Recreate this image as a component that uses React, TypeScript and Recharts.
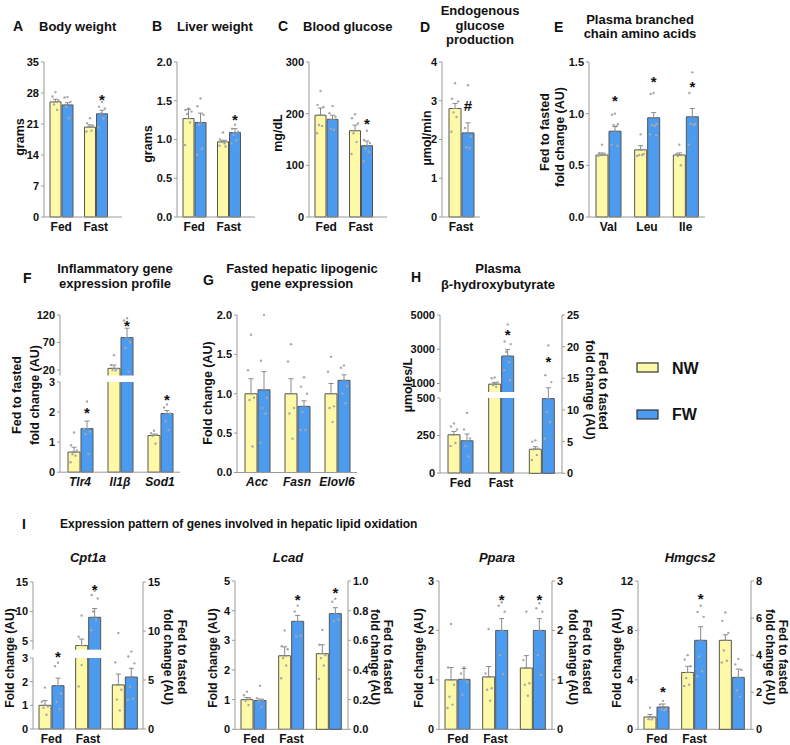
import React from 'react';
import { BarChart, Bar, XAxis, YAxis, ErrorBar } from 'recharts';

const FONT = '"Liberation Sans", Arial, Helvetica, sans-serif';
const YEL = '#fef9a7';
const BLUE = '#4d9bef';
const EDGE = '#555';
const AXIS = '#9a9a9a';
const INK = '#111';
const DOT = '#a8a8a8';

const FED_FAST = ['Fed', 'Fast'];
const FED_FAST_3 = ['Fed', 'Fast', ''];

// A — body weight (grams)
const bwNW = [26.0, 20.3];
const bwFW = [25.3, 23.3];
const bwNWe = [0.6, 0.5];
const bwFWe = [0.5, 0.8];
const bwStar = [null, 27.2];
const bwNWpts = [[28.2, 27.2, 26.3, 25.4, 24.2, 26.0], [22.3, 21.2, 20.6, 20.4, 19.5, 19.3]];
const bwFWpts = [[27.1, 27.0, 26.0, 24.9, 22.3], [26.0, 24.9, 24.5, 23.4, 22.3, 20.2]];

// B — liver weight (grams)
const lwNW = [1.27, 0.97];
const lwFW = [1.22, 1.09];
const lwNWe = [0.12, 0.02];
const lwFWe = [0.12, 0.05];
const lwStar = [null, 1.29];
const lwNWpts = [[1.4, 1.38, 1.36, 1.33, 1.22, 0.93], [1.09, 1.0, 0.98, 0.97, 0.95, 0.92, 0.91]];
const lwFWpts = [[1.53, 1.43, 1.32, 1.19, 0.88, 0.8], [1.19, 1.14, 1.1, 1.06, 0.99, 0.95]];

// C — blood glucose (mg/dL)
const bgNW = [197, 167];
const bgFW = [189, 138];
const bgNWe = [14, 11];
const bgFWe = [8, 9];
const bgStar = [null, 185];
const bgNWpts = [[244, 217, 213, 178, 176, 162], [199, 191, 181, 162, 145, 122]];
const bgFWpts = [[215, 201, 194, 171, 169], [167, 149, 143, 132, 126, 108]];

// D — endogenous glucose production (µmol/min)
const egpCats = ['Fast'];
const egpNW = [2.8];
const egpFW = [2.17];
const egpNWe = [0.13];
const egpFWe = [0.26];
const egpStar = [2.86];
const egpNWpts = [[3.45, 3.05, 2.98, 2.7, 2.58, 2.2]];
const egpFWpts = [[3.4, 2.3, 2.08, 1.8, 1.78]];

// E — plasma BCAA, fed to fasted fold change
const bcaaCats = ['Val', 'Leu', 'Ile'];
const bcaaNW = [0.6, 0.65, 0.6];
const bcaaFW = [0.83, 0.96, 0.97];
const bcaaNWe = [0.02, 0.04, 0.02];
const bcaaFWe = [0.045, 0.05, 0.08];
const bcaaStar = [1.15, 1.34, 1.29];
const bcaaNWpts = [[0.7, 0.62, 0.61, 0.6, 0.6, 0.59], [0.8, 0.65, 0.61, 0.6, 0.6, 0.59], [0.7, 0.61, 0.6, 0.59, 0.5]];
const bcaaFWpts = [[1.0, 0.99, 0.9, 0.89, 0.88, 0.7, 0.69], [1.2, 1.19, 0.9, 0.89, 0.88, 0.8, 0.79], [1.4, 1.2, 0.9, 0.9, 0.89, 0.7]];

// F — inflammatory genes
const infCats = ['Tlr4', 'Il1\u03b2', 'Sod1'];
const infNW = [0.67, 23, 1.22];
const infFW = [1.45, 79, 1.95];
const infNWe = [0.16, 6, 0.05];
const infFWe = [0.25, 17, 0.1];
const infStar = [2.06, 105, 2.5];
const infNWpts = [[1.32, 0.9, 0.72, 0.6, 0.55, 0.33], [47, 29, 22, 20, 19], [1.38, 1.3, 1.25, 1.2, 0.95]];
const infFWpts = [[2.35, 1.45, 1.35, 1.27, 0.6], [114, 110, 71, 60, 17], [2.25, 2.15, 1.95, 1.7, 1.4]];

// G — lipogenic genes
const lipCats = ['Acc', 'Fasn', 'Elovl6'];
const lipNW = [1.0, 1.0, 1.0];
const lipFW = [1.05, 0.84, 1.17];
const lipNWe = [0.19, 0.19, 0.13];
const lipFWe = [0.23, 0.07, 0.07];
const lipNWpts = [[1.75, 1.3, 0.95, 0.92, 0.33], [1.63, 1.41, 0.82, 0.75, 0.43], [1.47, 1.28, 0.84, 0.82, 0.64]];
const lipFWpts = [[2.0, 1.42, 0.95, 0.82, 0.75, 0.38], [1.21, 1.09, 1.0, 0.77, 0.54, 0.54], [1.36, 1.33, 1.1, 1.0, 0.88]];

// H — plasma beta-hydroxybutyrate (µmoles/L; third group is fold change on right axis)
const bhbNW = [255, 960, 3.8];
const bhbFW = [215, 2600, 11.8];
const bhbNWe = [22, 100, 0.4];
const bhbFWe = [45, 390, 1.7];
const bhbStar = [null, 4000, 18.1];
const bhbNWpts = [[330, 310, 290, 255, 200, 180], [1350, 1300, 1060, 900, 800], [5.2, 5.0, 3.9, 3.8, 2.9, 2.1]];
const bhbFWpts = [[400, 290, 230, 180, 110], [4450, 3450, 3300, 2850, 2260, 1780, 1190], [20.2, 15.5, 14.4, 9.7, 8.1, 5.5]];

// I — lipid oxidation genes
const cptNW = [1.0, 4.2, 4.5];
const cptFW = [1.83, 9.0, 5.3];
const cptNWe = [0.2, 1.1, 1.1];
const cptFWe = [0.32, 1.5, 0.9];
const cptStar = [3.18, 14.2, null];
const cptNWpts = [[1.75, 1.15, 0.95, 0.9, 0.6], [9.3, 5.7, 2.7, 1.8], [9.8, 6.8, 4.0, 3.0, 1.9]];
const cptFWpts = [[2.8, 2.65, 1.5, 1.15, 0.85], [13.5, 12.8, 12.2, 10.0, 8.6, 6.8], [7.9, 7.4, 6.7, 4.3, 3.1, 3.0]];

const lcadNW = [1.0, 2.48, 0.51];
const lcadFW = [0.97, 3.64, 0.78];
const lcadNWe = [0.07, 0.3, 0.06];
const lcadFWe = [0.05, 0.2, 0.04];
const lcadStar = [null, 4.47, 0.94];
const lcadNWpts = [[1.27, 1.15, 1.05, 0.95, 0.82], [3.33, 2.8, 2.7, 2.4, 2.15, 1.72], [0.67, 0.57, 0.5, 0.48, 0.43, 0.34]];
const lcadFWpts = [[1.47, 1.05, 1.0, 0.95, 0.75], [4.17, 3.97, 3.15, 3.13], [0.88, 0.86, 0.74, 0.73]];

const pparNW = [1.0, 1.06, 1.24];
const pparFW = [1.01, 2.0, 2.0];
const pparNWe = [0.25, 0.21, 0.25];
const pparFWe = [0.22, 0.24, 0.24];
const pparStar = [null, 2.68, 2.68];
const pparNWpts = [[2.13, 1.25, 0.9, 0.66, 0.5, 0.43], [2.03, 1.13, 0.83, 0.8, 0.58], [2.38, 1.4, 0.93, 0.9, 0.68]];
const pparFWpts = [[1.25, 1.13, 0.96, 0.7], [2.57, 2.5, 2.38, 1.5, 1.12], [2.55, 2.45, 2.38, 1.5, 1.1]];

const hmgNW = [1.0, 4.6, 4.8];
const hmgFW = [1.8, 7.2, 2.8];
const hmgNWe = [0.2, 0.5, 0.3];
const hmgFWe = [0.25, 1.1, 0.45];
const hmgStar = [3.25, 10.8, null];
const hmgNWpts = [[1.75, 1.0, 0.9, 0.82, 0.8], [6.0, 5.65, 5.1, 4.15, 3.6, 3.5], [6.3, 5.85, 5.2, 4.25, 3.7, 3.6]];
const hmgFWpts = [[2.3, 2.0, 1.65, 1.6, 1.55], [10.0, 9.5, 9.1, 5.9, 4.7, 4.3], [3.8, 3.5, 3.2, 2.1, 1.75]];

type Set = {
  cats: string[];
  nw: number[];
  fw: number[];
  nwE: number[];
  fwE: number[];
  star?: (number | null)[];
  nwP: number[][];
  fwP: number[][];
};

type Row = {
  cat: string;
  nw: number | null;
  fw: number | null;
  nwE: number[] | null;
  fwE: number[] | null;
  nwCut: boolean;
  fwCut: boolean;
  fwS: number | null;
  nwP: number[];
  fwP: number[];
};

const bw: Set = { cats: FED_FAST, nw: bwNW, fw: bwFW, nwE: bwNWe, fwE: bwFWe, star: bwStar, nwP: bwNWpts, fwP: bwFWpts };
const lw: Set = { cats: FED_FAST, nw: lwNW, fw: lwFW, nwE: lwNWe, fwE: lwFWe, star: lwStar, nwP: lwNWpts, fwP: lwFWpts };
const bg: Set = { cats: FED_FAST, nw: bgNW, fw: bgFW, nwE: bgNWe, fwE: bgFWe, star: bgStar, nwP: bgNWpts, fwP: bgFWpts };
const egp: Set = { cats: egpCats, nw: egpNW, fw: egpFW, nwE: egpNWe, fwE: egpFWe, star: egpStar, nwP: egpNWpts, fwP: egpFWpts };
const bcaa: Set = { cats: bcaaCats, nw: bcaaNW, fw: bcaaFW, nwE: bcaaNWe, fwE: bcaaFWe, star: bcaaStar, nwP: bcaaNWpts, fwP: bcaaFWpts };
const inf: Set = { cats: infCats, nw: infNW, fw: infFW, nwE: infNWe, fwE: infFWe, star: infStar, nwP: infNWpts, fwP: infFWpts };
const lip: Set = { cats: lipCats, nw: lipNW, fw: lipFW, nwE: lipNWe, fwE: lipFWe, nwP: lipNWpts, fwP: lipFWpts };
const bhb: Set = { cats: FED_FAST_3, nw: bhbNW, fw: bhbFW, nwE: bhbNWe, fwE: bhbFWe, star: bhbStar, nwP: bhbNWpts, fwP: bhbFWpts };
const cpt: Set = { cats: FED_FAST_3, nw: cptNW, fw: cptFW, nwE: cptNWe, fwE: cptFWe, star: cptStar, nwP: cptNWpts, fwP: cptFWpts };
const lcad: Set = { cats: FED_FAST_3, nw: lcadNW, fw: lcadFW, nwE: lcadNWe, fwE: lcadFWe, star: lcadStar, nwP: lcadNWpts, fwP: lcadFWpts };
const ppar: Set = { cats: FED_FAST_3, nw: pparNW, fw: pparFW, nwE: pparNWe, fwE: pparFWe, star: pparStar, nwP: pparNWpts, fwP: pparFWpts };
const hmg: Set = { cats: FED_FAST_3, nw: hmgNW, fw: hmgFW, nwE: hmgNWe, fwE: hmgFWe, star: hmgStar, nwP: hmgNWpts, fwP: hmgFWpts };

// rows for one axis segment: values below the segment are dropped, values above are cut at its top
function buildRows(s: Set, lo: number, hi: number, use?: number[]): Row[] {
  return s.cats.map((cat, i) => {
    const on = !use || use.includes(i);
    const cell = (v: number | null | undefined, e: number) => {
      if (!on || v == null || v <= lo) return { v: null, e: null, cut: false, gone: true };
      if (v > hi) return { v: hi, e: null, cut: true, gone: false };
      return { v, e: [0, e], cut: false, gone: false };
    };
    const a = cell(s.nw[i], s.nwE[i]);
    const b = cell(s.fw[i], s.fwE[i]);
    return {
      cat,
      nw: a.v,
      fw: b.v,
      nwE: a.e,
      fwE: b.e,
      nwCut: a.cut,
      fwCut: b.cut,
      fwS: b.cut || b.gone ? null : s.star?.[i] ?? null,
      nwP: s.nwP[i] ?? [],
      fwP: s.fwP[i] ?? [],
    };
  });
}

const JITTER = [0, -3, 3, -1.5, 1.5, -3.5, 2.5];

function makeShape(key: 'nw' | 'fw', fill: string, lo: number, hi: number, mark: string) {
  return (p: any) => {
    const row = p.payload as Row;
    const v = row ? row[key] : null;
    if (v == null || !(p.height > 0) || v <= lo) return <g />;
    const ppu = p.height / (v - lo);
    const cx = p.x + p.width / 2;
    const at = (d: number) => p.y + (v - d) * ppu;
    const pts = (key === 'nw' ? row.nwP : row.fwP).filter((d) => d >= lo && d <= hi);
    const s = key === 'fw' ? row.fwS : null;
    const cut = key === 'nw' ? row.nwCut : row.fwCut;
    const { x, y, width: w, height: h } = p;
    // sides always, top unless the bar runs through an axis break, bottom only on a zero baseline
    let edge = `M${x},${y + h}V${y}M${x + w},${y}V${y + h}`;
    if (!cut) edge += `M${x},${y}H${x + w}`;
    if (lo === 0) edge += `M${x},${y + h}H${x + w}`;
    return (
      <g>
        <rect x={x} y={y} width={w} height={h} fill={fill} />
        <path d={edge} stroke={EDGE} strokeWidth={1} fill="none" />
        {pts.map((d, j) => (
          <circle key={j} cx={cx + JITTER[j % JITTER.length]} cy={at(d)} r={1.2} fill={DOT} />
        ))}
        {s != null && (
          <text x={cx} y={at(s) + (mark === '#' ? 5 : 8)} textAnchor="middle" fontSize={15} fontWeight={700} fill={INK}>
            {mark}
          </text>
        )}
      </g>
    );
  };
}

const YW = 40;
const RW = 40;
const MT = 30;
const XH = 22;

type PanelProps = {
  plot: [number, number, number, number];
  rows: Row[];
  domain: [number, number];
  ticks: number[];
  fmt?: (v: number) => string;
  side?: 'left' | 'right';
  showX?: boolean;
  padR?: number;
  barSize?: number;
  italic?: boolean;
  mark?: string;
};

function Panel({ plot, rows, domain, ticks, fmt, side = 'left', showX = true, padR = 0, barSize = 12, italic = false, mark = '*' }: PanelProps) {
  const [x0, y0, x1, y1] = plot;
  const w = YW + (x1 - x0) + RW;
  const h = MT + (y1 - y0) + XH;
  const [lo, hi] = domain;
  return (
    <div style={{ position: 'absolute', left: x0 - YW, top: y0 - MT, width: w, height: h }}>
      <BarChart
        width={w}
        height={h}
        data={rows}
        barSize={barSize}
        barGap={1}
        margin={{ top: MT, right: side === 'left' ? RW : 0, left: side === 'right' ? YW : 0, bottom: showX ? 0 : XH }}
      >
        <XAxis
          dataKey="cat"
          hide={!showX}
          height={XH}
          interval={0}
          tickLine={false}
          tickSize={0}
          tickMargin={5}
          padding={{ left: 0, right: padR }}
          axisLine={{ stroke: AXIS }}
          tick={{ fontSize: 12, fontWeight: 700, fill: INK, fontStyle: italic ? 'italic' : 'normal' }}
        />
        <YAxis
          orientation={side}
          width={side === 'left' ? YW : RW}
          type="number"
          domain={domain}
          ticks={ticks}
          interval={0}
          tickFormatter={fmt}
          tickSize={3}
          tickMargin={2}
          axisLine={{ stroke: AXIS }}
          tickLine={{ stroke: AXIS }}
          tick={{ fontSize: 11, fontWeight: 700, fill: INK }}
        />
        <Bar dataKey="nw" fill={YEL} isAnimationActive={false} shape={makeShape('nw', YEL, lo, hi, mark)}>
          <ErrorBar dataKey="nwE" width={2.5} stroke="#8a8a8a" strokeWidth={1} direction="y" />
        </Bar>
        <Bar dataKey="fw" fill={BLUE} isAnimationActive={false} shape={makeShape('fw', BLUE, lo, hi, mark)}>
          <ErrorBar dataKey="fwE" width={2.5} stroke="#8a8a8a" strokeWidth={1} direction="y" />
        </Bar>
      </BarChart>
    </div>
  );
}

const f1 = (v: number) => v.toFixed(1);

function VLabel({ x, y, text, size = 12, right = false }: { x: number; y: number; text: string; size?: number; right?: boolean }) {
  return (
    <text
      transform={`translate(${x},${y}) rotate(${right ? 90 : -90})`}
      textAnchor="middle"
      dominantBaseline="central"
      fontSize={size}
      fontWeight={700}
      fill={INK}
    >
      {text}
    </text>
  );
}

function T({ x, y, text, size = 13, anchor = 'start', italic = false }: { x: number; y: number; text: string; size?: number; anchor?: string; italic?: boolean }) {
  return (
    <text x={x} y={y} textAnchor={anchor as any} dominantBaseline="central" fontSize={size} fontWeight={700} fontStyle={italic ? 'italic' : 'normal'} fill={INK}>
      {text}
    </text>
  );
}

export default function App() {
  return (
    <div style={{ position: 'absolute', left: 0, top: 0, width: 790, height: 745, background: '#fff', fontFamily: FONT }}>
      {/* top row */}
      <Panel plot={[44, 62, 122, 217]} rows={buildRows(bw, 0, 35)} domain={[0, 35]} ticks={[0, 7, 14, 21, 28, 35]} padR={9} barSize={11} />
      <Panel plot={[177, 62, 255, 217]} rows={buildRows(lw, 0, 2)} domain={[0, 2]} ticks={[0, 0.5, 1, 1.5, 2]} fmt={f1} padR={9} barSize={11} />
      <Panel plot={[309, 62, 387, 217]} rows={buildRows(bg, 0, 300)} domain={[0, 300]} ticks={[0, 100, 200, 300]} padR={9} barSize={11} />
      <Panel plot={[442, 62, 480, 217]} rows={buildRows(egp, 0, 4)} domain={[0, 4]} ticks={[0, 1, 2, 3, 4]} mark="#" />
      <Panel plot={[589, 62, 705, 217]} rows={buildRows(bcaa, 0, 1.5)} domain={[0, 1.5]} ticks={[0, 0.5, 1, 1.5]} fmt={f1} />

      {/* middle row */}
      <Panel plot={[60, 381.5, 180, 471.7]} rows={buildRows(inf, 0, 3)} domain={[0, 3]} ticks={[0, 1, 2, 3]} italic />
      <Panel plot={[60, 315, 180, 375.5]} rows={buildRows(inf, 10, 120)} domain={[10, 120]} ticks={[20, 70, 120]} showX={false} />
      <Panel plot={[237, 315, 357, 472.5]} rows={buildRows(lip, 0, 2)} domain={[0, 2]} ticks={[0, 0.5, 1, 1.5, 2]} fmt={f1} italic />
      <Panel plot={[440, 398.3, 562, 473.3]} rows={buildRows(bhb, 0, 500, [0, 1])} domain={[0, 500]} ticks={[0, 250, 500]} />
      <Panel plot={[440, 315, 562, 392]} rows={buildRows(bhb, 500, 5000, [0, 1])} domain={[500, 5000]} ticks={[1000, 3000, 5000]} showX={false} />
      <Panel plot={[440, 315, 562, 473.3]} rows={buildRows(bhb, 0, 25, [2])} domain={[0, 25]} ticks={[0, 5, 10, 15, 20, 25]} side="right" showX={false} />

      {/* bottom row */}
      <Panel plot={[33, 658.3, 143, 729.3]} rows={buildRows(cpt, 0, 3, [0, 1])} domain={[0, 3]} ticks={[0, 1, 2, 3]} />
      <Panel plot={[33, 582.3, 143, 650]} rows={buildRows(cpt, 3.5, 15, [0, 1])} domain={[3.5, 15]} ticks={[5, 10, 15]} showX={false} />
      <Panel plot={[33, 582.3, 143, 729.3]} rows={buildRows(cpt, 0, 15, [2])} domain={[0, 15]} ticks={[0, 5, 10, 15]} side="right" showX={false} />

      <Panel plot={[235, 581, 348, 729.3]} rows={buildRows(lcad, 0, 5, [0, 1])} domain={[0, 5]} ticks={[0, 1, 2, 3, 4, 5]} />
      <Panel plot={[235, 581, 348, 729.3]} rows={buildRows(lcad, 0, 1, [2])} domain={[0, 1]} ticks={[0, 0.2, 0.4, 0.6, 0.8, 1]} fmt={f1} side="right" showX={false} />

      <Panel plot={[439, 581, 552, 729.3]} rows={buildRows(ppar, 0, 3, [0, 1])} domain={[0, 3]} ticks={[0, 1, 2, 3]} />
      <Panel plot={[439, 581, 552, 729.3]} rows={buildRows(ppar, 0, 3, [2])} domain={[0, 3]} ticks={[0, 1, 2, 3]} side="right" showX={false} />

      <Panel plot={[638, 581, 751, 729.3]} rows={buildRows(hmg, 0, 12, [0, 1])} domain={[0, 12]} ticks={[0, 4, 8, 12]} />
      <Panel plot={[638, 581, 751, 729.3]} rows={buildRows(hmg, 0, 8, [2])} domain={[0, 8]} ticks={[0, 2, 4, 6, 8]} side="right" showX={false} />

      <svg width={790} height={745} style={{ position: 'absolute', left: 0, top: 0, pointerEvents: 'none', fontFamily: FONT }}>
        {/* panel letters */}
        <T x={13} y={26} text="A" size={14} />
        <T x={152} y={26} text="B" size={14} />
        <T x={278} y={26} text="C" size={14} />
        <T x={420} y={27} text="D" size={14} />
        <T x={554} y={27} text="E" size={14} />
        <T x={23} y={278} text="F" size={14} />
        <T x={203} y={280} text="G" size={14} />
        <T x={411} y={277} text="H" size={14} />
        <T x={22} y={524} text="I" size={14} />

        {/* titles */}
        <T x={39} y={26} text="Body weight" />
        <T x={177} y={26} text="Liver weight" />
        <T x={303} y={26} text="Blood glucose" />
        <T x={480} y={10} text="Endogenous" anchor="middle" />
        <T x={480} y={25} text="glucose" anchor="middle" />
        <T x={480} y={39} text="production" anchor="middle" />
        <T x={640} y={19} text="Plasma branched" anchor="middle" />
        <T x={640} y={33} text="chain amino acids" anchor="middle" />
        <T x={115} y={268} text="Inflammatory gene" anchor="middle" />
        <T x={115} y={283} text="expression profile" anchor="middle" />
        <T x={302} y={268} text="Fasted hepatic lipogenic" anchor="middle" />
        <T x={302} y={283} text="gene expression" anchor="middle" />
        <T x={498} y={268} text="Plasma" anchor="middle" />
        <T x={498} y={284} text={'\u03b2-hydroxybutyrate'} anchor="middle" />
        <T x={60} y={524} text="Expression pattern of genes involved in hepatic lipid oxidation" size={12} />
        <T x={88} y={557} text="Cpt1a" anchor="middle" italic />
        <T x={288} y={557} text="Lcad" anchor="middle" italic />
        <T x={497} y={557} text="Ppara" anchor="middle" italic />
        <T x={690} y={557} text="Hmgcs2" anchor="middle" italic />

        {/* axis titles */}
        <VLabel x={20} y={137} text="grams" size={12.5} />
        <VLabel x={148} y={144} text="grams" size={12.5} />
        <VLabel x={278} y={133} text="mg/dL" size={12.5} />
        <VLabel x={427} y={138} text={'\u00b5mol/min'} size={12.5} />
        <VLabel x={545} y={132} text="Fed to fasted" size={12.5} />
        <VLabel x={560} y={137} text="fold change (AU)" size={12.5} />
        <VLabel x={17} y={395} text="Fed to fasted" size={12.5} />
        <VLabel x={35} y={395} text="fold change (AU)" size={12.5} />
        <VLabel x={208} y={393} text="Fold change (AU)" size={12.5} />
        <VLabel x={408} y={385} text={'\u00b5moles/L'} size={12.5} />
        <VLabel x={603} y={391} text="Fed to fasted" size={12.5} right />
        <VLabel x={590} y={390} text="fold change (AU)" size={12.5} right />

        <VLabel x={10} y={658} text="Fold change (AU)" />
        <VLabel x={213} y={658} text="Fold change (AU)" />
        <VLabel x={419} y={658} text="Fold change (AU)" />
        <VLabel x={617} y={658} text="Fold change (AU)" />
        <VLabel x={182} y={657} text="Fed to fasted" right />
        <VLabel x={168} y={657} text="fold change (AU)" right />
        <VLabel x={388} y={657} text="Fed to fasted" right />
        <VLabel x={375} y={657} text="fold change (AU)" right />
        <VLabel x={587} y={657} text="Fed to fasted" right />
        <VLabel x={573} y={657} text="fold change (AU)" right />
        <VLabel x={783} y={657} text="Fed to fasted" right />
        <VLabel x={770} y={657} text="fold change (AU)" right />

        {/* legend */}
        <rect x={637} y={363} width={21} height={9} fill={YEL} stroke="#333" strokeWidth={1.2} />
        <T x={672} y={368} text="NW" size={16} />
        <rect x={637} y={410} width={21} height={9} fill={BLUE} stroke="#333" strokeWidth={1.2} />
        <T x={672} y={414.5} text="FW" size={16} />
      </svg>
    </div>
  );
}
